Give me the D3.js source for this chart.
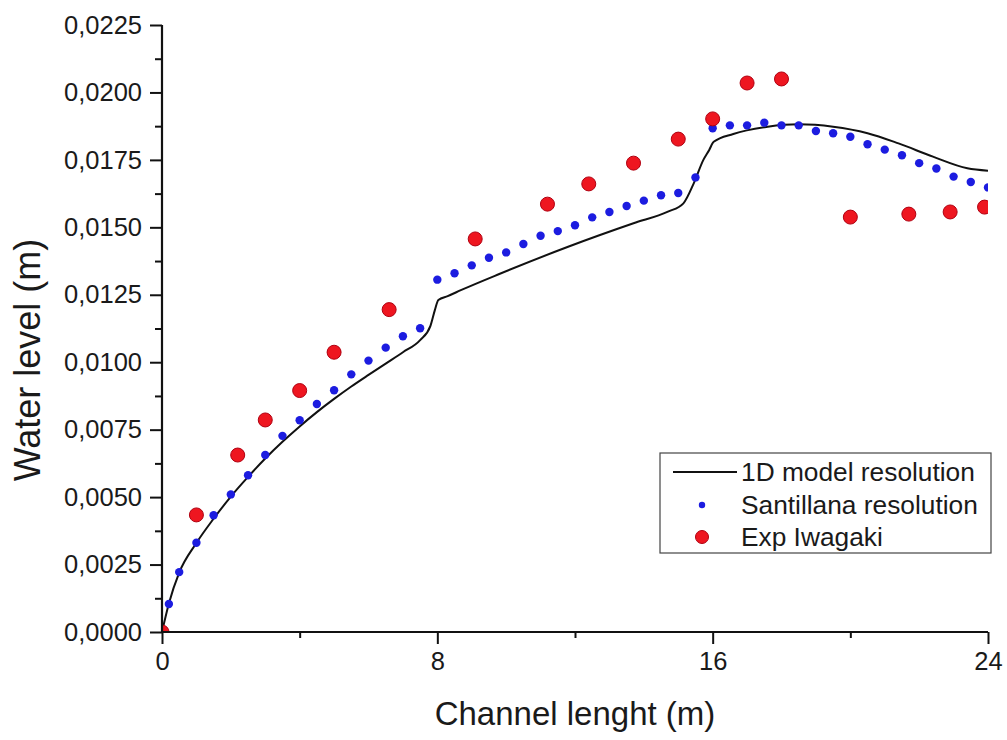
<!DOCTYPE html>
<html>
<head>
<meta charset="utf-8">
<title>Water level</title>
<script src="https://d3js.org/d3.v7.min.js"></script>
<style>
  body { margin: 0; background: #fff; }
  text { font-family: "Liberation Sans", Arial, sans-serif; fill: #1a1a1a; }
</style>
</head>
<body>
<script>
// 1D model resolution (solid line)
var modelX = [0, 0.2, 0.5, 1.0, 1.5, 2.0, 2.5, 3.0, 3.5, 4.0, 4.5, 5.0, 5.5, 6.0, 6.5, 7.0, 7.5, 7.8, 7.93, 8.03, 8.3, 8.7, 9.8, 11.8, 13.7, 14.7, 15.15, 15.45, 15.73, 15.9, 16.03, 16.6, 17.6, 18.5, 19.5, 20.5, 21.4, 22.4, 23.4, 24.0];
var modelY = [0, 0.00106, 0.0022, 0.0033, 0.0042, 0.00502, 0.00575, 0.00643, 0.00705, 0.00762, 0.00815, 0.00864, 0.0091, 0.00953, 0.00995, 0.01037, 0.01082, 0.01135, 0.01194, 0.01231, 0.01245, 0.01268, 0.01327, 0.01428, 0.01515, 0.01558, 0.01589, 0.01663, 0.0175, 0.01787, 0.01817, 0.01846, 0.01873, 0.01882, 0.01873, 0.01849, 0.01811, 0.01762, 0.01719, 0.0171];

// Santillana resolution (blue dots)
var santX = [0.2, 0.5, 1.0, 1.5, 2.0, 2.5, 3.0, 3.5, 4.0, 4.5, 5.0, 5.5, 6.0, 6.5, 7.0, 7.5, 8.0, 8.5, 9.0, 9.5, 10.0, 10.5, 11.0, 11.5, 12.0, 12.5, 13.0, 13.5, 14.0, 14.5, 15.0, 15.5, 16.0, 16.5, 17.0, 17.5, 18.0, 18.5, 19.0, 19.5, 20.0, 20.5, 21.0, 21.5, 22.0, 22.5, 23.0, 23.5, 24.0];
var santY = [0.00104, 0.00222, 0.00331, 0.00433, 0.0051, 0.00581, 0.00656, 0.00727, 0.00785, 0.00845, 0.00896, 0.00955, 0.01006, 0.01054, 0.01096, 0.01126, 0.01306, 0.0133, 0.01359, 0.01387, 0.01407, 0.01438, 0.01469, 0.01486, 0.01508, 0.01537, 0.01557, 0.01579, 0.01599, 0.01619, 0.01627, 0.01685, 0.01867, 0.01878, 0.01878, 0.01888, 0.01878, 0.01878, 0.01857, 0.01849, 0.01836, 0.01808, 0.01788, 0.01767, 0.01738, 0.01718, 0.01688, 0.01668, 0.01648];

// Exp Iwagaki (red dots)
var expX = [0, 1.0, 2.2, 3.0, 4.0, 5.0, 6.6, 9.1, 11.2, 12.4, 13.7, 15.0, 16.0, 17.0, 18.0, 20.0, 21.7, 22.9, 23.9];
var expY = [0, 0.00434, 0.00656, 0.00786, 0.00895, 0.01037, 0.01195, 0.01457, 0.01586, 0.01661, 0.01738, 0.01827, 0.01902, 0.02035, 0.0205, 0.01538, 0.01549, 0.01557, 0.01575];

var xTicks = [0, 8, 16, 24];
var xMinor = [4, 12, 20];
var yTicks = [0, 0.0025, 0.005, 0.0075, 0.01, 0.0125, 0.015, 0.0175, 0.02, 0.0225];
var yMinor = [0.00125, 0.00375, 0.00625, 0.00875, 0.01125, 0.01375, 0.01625, 0.01875, 0.02125];

var legendLabels = ["1D model resolution", "Santillana resolution", "Exp Iwagaki"];

var margin = {top: 25, right: 19, bottom: 108, left: 162};
var W = 1007, H = 740;
var width = W - margin.left - margin.right,
    height = H - margin.top - margin.bottom;

var svg = d3.select("body").append("svg")
    .attr("width", W)
    .attr("height", H);

var g = svg.append("g")
    .attr("transform", "translate(" + margin.left + "," + margin.top + ")");

var x = d3.scaleLinear().domain([0, 24]).range([0, width]);
var y = d3.scaleLinear().domain([0, 0.0225]).range([height, 0]);

var fmt = d3.formatLocale({decimal: ",", thousands: ".", grouping: [3], currency: ["", ""]}).format(".4f");

g.append("clipPath").attr("id", "plotclip")
  .append("rect").attr("x", 0).attr("y", 0).attr("width", width).attr("height", height);

var plot = g.append("g").attr("clip-path", "url(#plotclip)");

// line
var line = d3.line()
    .x(function(d) { return x(d[0]); })
    .y(function(d) { return y(d[1]); })
    .curve(d3.curveMonotoneX);

plot.append("path")
    .datum(d3.zip(modelX, modelY))
    .attr("d", line)
    .attr("fill", "none")
    .attr("stroke", "#111")
    .attr("stroke-width", 2);

// blue dots
plot.selectAll(".sant")
    .data(d3.zip(santX, santY))
    .enter().append("circle")
    .attr("class", "sant")
    .attr("cx", function(d) { return x(d[0]); })
    .attr("cy", function(d) { return y(d[1]); })
    .attr("r", 4.2)
    .attr("fill", "#1c1ce0");

// red dots
plot.selectAll(".exp")
    .data(d3.zip(expX, expY))
    .enter().append("circle")
    .attr("class", "exp")
    .attr("cx", function(d) { return x(d[0]); })
    .attr("cy", function(d) { return y(d[1]); })
    .attr("r", 7)
    .attr("fill", "#ee1620")
    .attr("stroke", "#b00010")
    .attr("stroke-width", 1);

// axes
var xAxis = g.append("g")
    .attr("transform", "translate(0," + height + ")")
    .call(d3.axisBottom(x).tickValues(xTicks).tickSize(12).tickPadding(8).tickFormat(d3.format("d")));
g.append("g")
    .attr("transform", "translate(0," + height + ")")
    .call(d3.axisBottom(x).tickValues(xMinor).tickSize(6).tickFormat(""))
    .select(".domain").remove();

var yAxis = g.append("g")
    .call(d3.axisLeft(y).tickValues(yTicks).tickSize(12).tickPadding(8).tickFormat(fmt));
g.append("g")
    .call(d3.axisLeft(y).tickValues(yMinor).tickSize(7).tickFormat(""))
    .select(".domain").remove();

g.selectAll(".domain").attr("stroke", "#111").attr("stroke-width", 2.2);
g.selectAll(".tick line").attr("stroke", "#111").attr("stroke-width", 2);
g.selectAll(".tick text").style("font-size", "25.5px").attr("fill", "#1a1a1a");
// flatten domain end caps
xAxis.select(".domain").attr("d", "M0,0H" + width);
yAxis.select(".domain").attr("d", "M0," + height + "V0");

// axis titles
svg.append("text")
    .attr("x", margin.left + width / 2)
    .attr("y", 725)
    .attr("text-anchor", "middle")
    .style("font-size", "33px")
    .text("Channel lenght (m)");

svg.append("text")
    .attr("transform", "translate(40,360) rotate(-90)")
    .attr("text-anchor", "middle")
    .style("font-size", "36px")
    .text("Water level (m)");

// legend
var leg = svg.append("g");
leg.append("rect")
    .attr("x", 660).attr("y", 453)
    .attr("width", 331).attr("height", 100)
    .attr("fill", "#fff")
    .attr("stroke", "#444")
    .attr("stroke-width", 1.2);

var rowY = [472, 505, 537];
leg.append("line")
    .attr("x1", 673).attr("x2", 737)
    .attr("y1", rowY[0]).attr("y2", rowY[0])
    .attr("stroke", "#111").attr("stroke-width", 2);
leg.append("circle").attr("cx", 702).attr("cy", rowY[1]).attr("r", 3.2).attr("fill", "#1c1ce0");
leg.append("circle").attr("cx", 702).attr("cy", rowY[2]).attr("r", 6.5).attr("fill", "#ee1620").attr("stroke", "#b00010");

leg.selectAll(".lt")
    .data(legendLabels)
    .enter().append("text")
    .attr("class", "lt")
    .attr("x", 741)
    .attr("y", function(d, i) { return rowY[i] + 9; })
    .style("font-size", "26.3px")
    .text(function(d) { return d; });
</script>
</body>
</html>
